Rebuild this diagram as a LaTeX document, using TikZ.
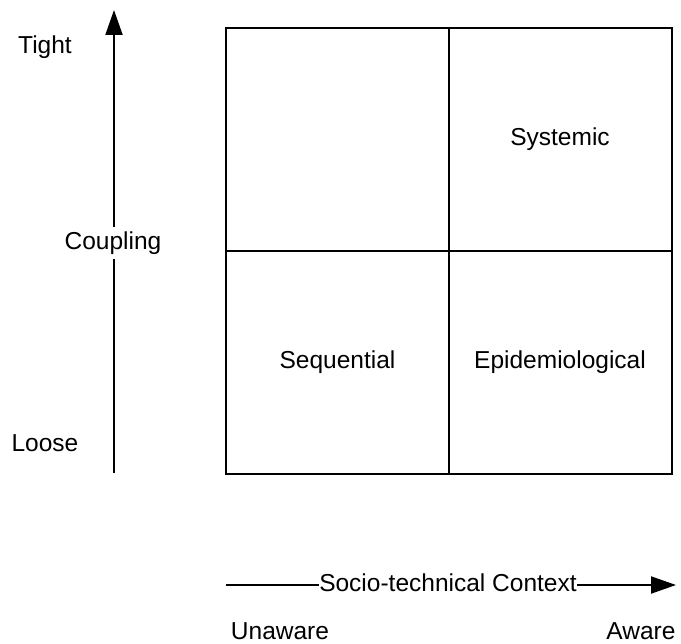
\documentclass[tikz,border=0pt]{standalone}
\usepackage{fontspec}
\setmainfont{Liberation Sans}
\usetikzlibrary{arrows.meta}
\begin{document}
\begin{tikzpicture}[x=1bp,y=-1bp,
  cell/.style={draw,line width=2bp,minimum width=223bp,minimum height=223bp,inner sep=0pt,font=\fontsize{24.6}{28}\selectfont},
  lbl/.style={font=\fontsize{24.6}{28}\selectfont,inner sep=0pt},
  axis/.style={line width=2bp,-{Triangle[length=25bp,width=17bp]}}]
\useasboundingbox (0,0) rectangle (681,644);
% quadrant cells
\node[cell] (tl) at (337.5,139.5) {};
\node[cell] (tr) at (560,139.5) {Systemic};
\node[cell] (bl) at (337.5,362.5) {Sequential};
\node[cell] (br) at (560,362.5) {Epidemiological};
% vertical axis: coupling
\coordinate (vbot) at (114,473);
\coordinate (vtop) at (114,10);
\node[lbl,fill=white,inner ysep=4bp] (coup) at (113,243) {Coupling};
\draw[line width=2bp] (vbot) -- (coup.south -| vbot);
\draw[axis] (coup.north -| vtop) -- (vtop);
\node[lbl] (tight) at (45,47) {Tight};
\node[lbl] (loose) at (45,443) {Loose};
% horizontal axis: socio-technical context
\coordinate (hl) at (226,585);
\coordinate (hr) at (676,585);
\node[lbl,fill=white,inner xsep=0.5bp] (ctx) at (448,583) {Socio-technical Context};
\draw[line width=2bp] (hl) -- (ctx.west |- hl);
\draw[axis] (ctx.east |- hr) -- (hr);
\node[lbl,anchor=base] (unaware) at (280,639) {Unaware};
\node[lbl,anchor=base] (aware) at (641,639) {Aware};
\end{tikzpicture}
\end{document}
